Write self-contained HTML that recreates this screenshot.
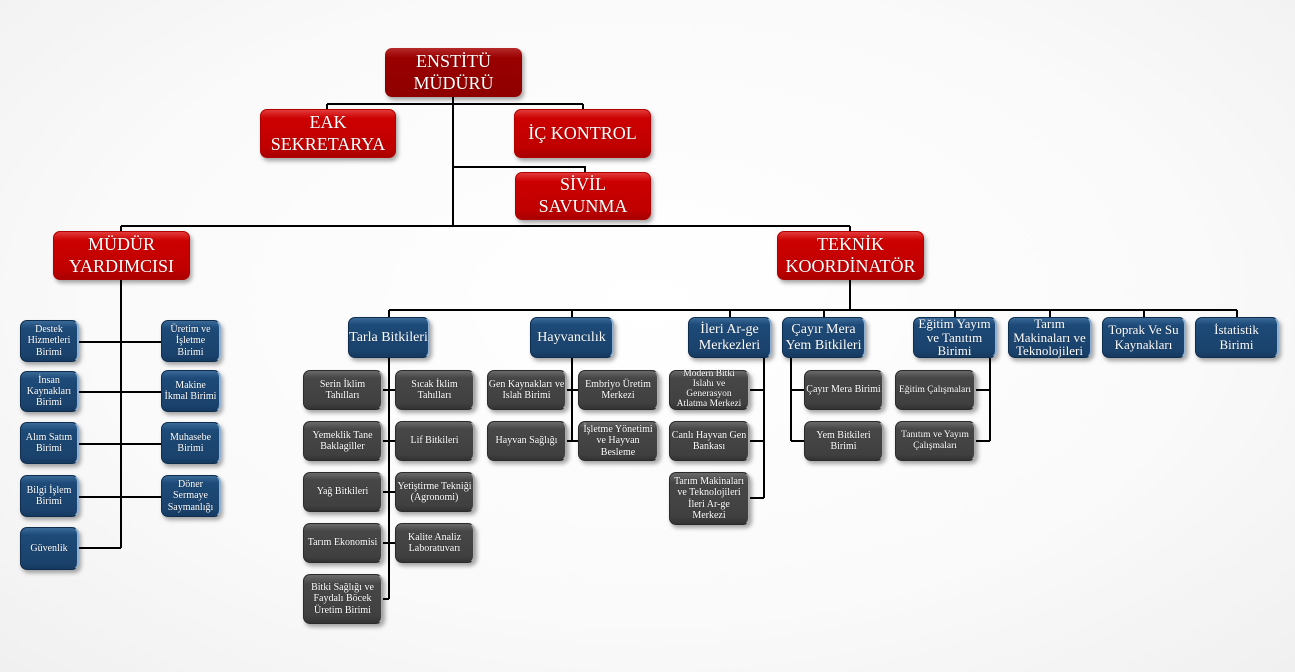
<!DOCTYPE html>
<html><head><meta charset="utf-8"><style>
html,body{margin:0;padding:0}
body{width:1295px;height:672px;position:relative;overflow:hidden;background:radial-gradient(ellipse at 50% 45%,#ffffff 0%,#fafafa 60%,#f0f0f0 100%);font-family:"Liberation Serif",serif}
.b{position:absolute;box-sizing:border-box;display:flex;align-items:center;justify-content:center;text-align:center;color:#fff;border-radius:7px;line-height:1.12;box-shadow:2px 3px 4px rgba(0,0,0,.35);text-shadow:0 0 1px rgba(0,0,0,.4);white-space:nowrap}
.r{background:linear-gradient(#e23a3a 0%,#cc0000 18%,#c00000 80%,#a80000 100%);font-size:18px;border:1px solid #b00000;line-height:1.2}
.dr{background:linear-gradient(#b52a2a 0%,#9a0000 20%,#8e0000 100%);font-size:18px;line-height:1.2}
.bl{background:linear-gradient(#3a6a98 0%,#1d4a78 18%,#1a426c 85%,#163a60 100%);border:1px solid #0f2d4d;border-right:2px solid #8fb0d0}
.g{background:linear-gradient(#6a6a6a 0%,#474747 18%,#404040 85%,#333 100%);border:1px solid #2a2a2a;border-right:2px solid #aaa;font-size:10px}
.s{font-size:10px}.m{font-size:14px}
</style></head><body>
<svg width="1295" height="672" style="position:absolute;left:0;top:0" fill="none" stroke="#000" stroke-width="2">
<path d="M453 97V226M327 104H583M327 104V110M583 104V110M453 167H585V173M121 226H850M121 226V232M850 226V232"/>
<path d="M121 280V548M79 342H161M79 392H161M79 444H161M79 497H161M79 548H121"/>
<path d="M850 280V310M389 310H1237M389 310V317M572 310V317M730 310V317M824 310V317M955 310V317M1050 310V317M1144 310V317M1237 310V317"/>
<path d="M389 358V599M383 390H395M383 441H395M383 492H395M383 543H395M383 599H389"/>
<path d="M572 358V441M567 390H578M567 441H578"/>
<path d="M764 358V498M750 390H764M750 441H764M750 498H764"/>
<path d="M791 358V441M791 390H804M791 441H804"/>
<path d="M990 358V441M976 390H990M976 441H990"/>
</svg>
<div class="b dr" style="left:385px;top:48px;width:137px;height:49px">ENSTİTÜ<br>MÜDÜRÜ</div>
<div class="b r" style="left:260px;top:109px;width:136px;height:49px">EAK<br>SEKRETARYA</div>
<div class="b r" style="left:514px;top:109px;width:137px;height:49px">İÇ KONTROL</div>
<div class="b r" style="left:515px;top:172px;width:136px;height:48px">SİVİL<br>SAVUNMA</div>
<div class="b r" style="left:53px;top:231px;width:137px;height:49px">MÜDÜR<br>YARDIMCISI</div>
<div class="b r" style="left:777px;top:231px;width:147px;height:49px">TEKNİK<br>KOORDİNATÖR</div>

<div class="b bl s" style="left:20px;top:320px;width:59px;height:42px">Destek<br>Hizmetleri<br>Birimi</div>
<div class="b bl s" style="left:20px;top:371px;width:59px;height:41px">İnsan<br>Kaynakları<br>Birimi</div>
<div class="b bl s" style="left:20px;top:422px;width:59px;height:42px">Alım Satım<br>Birimi</div>
<div class="b bl s" style="left:20px;top:475px;width:59px;height:42px">Bilgi İşlem<br>Birimi</div>
<div class="b bl s" style="left:20px;top:527px;width:59px;height:43px">Güvenlik</div>
<div class="b bl s" style="left:161px;top:320px;width:60px;height:42px">Üretim ve<br>İşletme<br>Birimi</div>
<div class="b bl s" style="left:161px;top:370px;width:60px;height:42px">Makine<br>İkmal Birimi</div>
<div class="b bl s" style="left:161px;top:422px;width:60px;height:42px">Muhasebe<br>Birimi</div>
<div class="b bl s" style="left:161px;top:475px;width:60px;height:42px">Döner<br>Sermaye<br>Saymanlığı</div>

<div class="b bl m" style="left:348px;top:317px;width:82px;height:41px">Tarla Bitkileri</div>
<div class="b bl m" style="left:530px;top:317px;width:84px;height:41px">Hayvancılık</div>
<div class="b bl m" style="left:688px;top:317px;width:84px;height:41px">İleri Ar-ge<br>Merkezleri</div>
<div class="b bl m" style="left:782px;top:317px;width:84px;height:41px">Çayır Mera<br>Yem Bitkileri</div>
<div class="b bl m" style="left:913px;top:317px;width:84px;height:41px;font-size:13px;line-height:1.05">Eğitim Yayım<br>ve Tanıtım<br>Birimi</div>
<div class="b bl m" style="left:1008px;top:317px;width:84px;height:41px;font-size:13px;line-height:1.05">Tarım<br>Makinaları ve<br>Teknolojileri</div>
<div class="b bl m" style="left:1102px;top:317px;width:84px;height:41px;font-size:13px">Toprak Ve Su<br>Kaynakları</div>
<div class="b bl m" style="left:1195px;top:317px;width:84px;height:41px;font-size:13px">İstatistik<br>Birimi</div>

<div class="b g" style="left:303px;top:370px;width:80px;height:40px">Serin İklim<br>Tahılları</div>
<div class="b g" style="left:395px;top:370px;width:80px;height:40px">Sıcak İklim<br>Tahılları</div>
<div class="b g" style="left:303px;top:421px;width:80px;height:40px">Yemeklik Tane<br>Baklagiller</div>
<div class="b g" style="left:395px;top:421px;width:80px;height:40px">Lif Bitkileri</div>
<div class="b g" style="left:303px;top:472px;width:80px;height:40px">Yağ Bitkileri</div>
<div class="b g" style="left:395px;top:472px;width:80px;height:40px">Yetiştirme Tekniği<br>(Agronomi)</div>
<div class="b g" style="left:303px;top:523px;width:80px;height:40px">Tarım Ekonomisi</div>
<div class="b g" style="left:395px;top:523px;width:80px;height:40px">Kalite Analiz<br>Laboratuvarı</div>
<div class="b g" style="left:303px;top:574px;width:80px;height:50px">Bitki Sağlığı ve<br>Faydalı Böcek<br>Üretim Birimi</div>

<div class="b g" style="left:487px;top:370px;width:80px;height:40px">Gen Kaynakları ve<br>Islah Birimi</div>
<div class="b g" style="left:578px;top:370px;width:81px;height:40px">Embriyo Üretim<br>Merkezi</div>
<div class="b g" style="left:487px;top:421px;width:80px;height:40px">Hayvan Sağlığı</div>
<div class="b g" style="left:578px;top:421px;width:81px;height:40px">İşletme Yönetimi<br>ve Hayvan<br>Besleme</div>

<div class="b g" style="left:669px;top:370px;width:81px;height:40px;font-size:9.5px;line-height:1.05">Modern Bitki<br>Islahı ve<br>Generasyon<br>Atlatma Merkezi</div>
<div class="b g" style="left:669px;top:421px;width:81px;height:40px">Canlı Hayvan Gen<br>Bankası</div>
<div class="b g" style="left:669px;top:472px;width:81px;height:53px">Tarım Makinaları<br>ve Teknolojileri<br>İleri Ar-ge<br>Merkezi</div>

<div class="b g" style="left:804px;top:370px;width:80px;height:40px">Çayır Mera Birimi</div>
<div class="b g" style="left:804px;top:421px;width:80px;height:40px">Yem Bitkileri<br>Birimi</div>

<div class="b g" style="left:895px;top:370px;width:81px;height:40px;font-size:9.5px">Eğitim Çalışmaları</div>
<div class="b g" style="left:895px;top:421px;width:81px;height:40px;font-size:9.5px">Tanıtım ve Yayım<br>Çalışmaları</div>
</body></html>
